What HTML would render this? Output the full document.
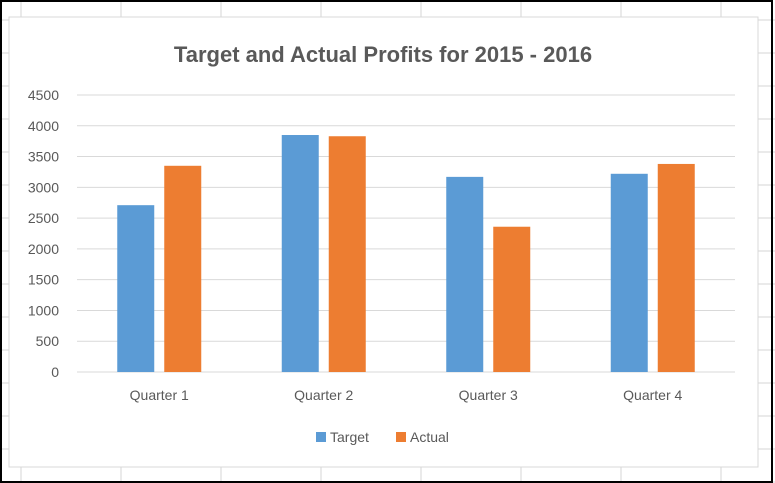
<!DOCTYPE html>
<html><head><meta charset="utf-8"><style>
body{margin:0;background:#fff;font-family:"Liberation Sans",sans-serif}
svg{display:block}
</style></head><body>
<svg width="775" height="483" xmlns="http://www.w3.org/2000/svg">
<g id="sheet"></g>
<rect x="9" y="17" width="749" height="450" fill="#fff" stroke="#d9d9d9"/>
<text x="383" y="62" text-anchor="middle" font-size="22" font-weight="bold" fill="#595959">Target and Actual Profits for 2015 - 2016</text>
<g id="grid"></g><g id="bars"></g><g id="labels"></g>
<g>
<rect x="316" y="432" width="10" height="10" fill="#5b9bd5"/>
<text x="330" y="442" font-size="14" fill="#595959">Target</text>
<rect x="396" y="432" width="10" height="10" fill="#ed7d31"/>
<text x="410" y="442" font-size="14" fill="#595959">Actual</text>
</g>
<rect x="1" y="1" width="771" height="481" fill="none" stroke="#000" stroke-width="2"/>
</svg>
<script>
const categories=["Quarter 1","Quarter 2","Quarter 3","Quarter 4"];
const target=[2710,3850,3170,3220];
const actual=[3350,3830,2360,3380];
const ticks=[0,500,1000,1500,2000,2500,3000,3500,4000,4500];
const NS="http://www.w3.org/2000/svg";
function mk(t,a,p){const e=document.createElementNS(NS,t);for(const k in a)e.setAttribute(k,a[k]);p.appendChild(e);return e;}
const sheet=document.getElementById('sheet');
for(let x=21;x<775;x+=100){const l=mk('line',{x1:x,y1:0,x2:x,y2:483,stroke:'#d4d4d4'},sheet);}
for(let y=20;y<483;y+=33){const l=mk('line',{x1:0,y1:y,x2:775,y2:y,stroke:'#d4d4d4'},sheet);}
const x0=77,x1=735,yBase=372,yTop=95,vmax=4500;
const ys=v=>yBase-(v/vmax)*(yBase-yTop);
const cw=(x1-x0)/categories.length;
const grid=document.getElementById('grid'),bars=document.getElementById('bars'),labels=document.getElementById('labels');
ticks.forEach(t=>{const y=ys(t);
const l=mk('line',{x1:x0,y1:y,x2:x1,y2:y,stroke:'#d9d9d9','stroke-width':1},grid);

const tx=mk('text',{x:59,y:y+5,'text-anchor':'end','font-size':14,fill:'#595959'},labels);tx.textContent=t;
});
categories.forEach((c,i)=>{const cx=x0+cw*(i+0.5);
const b1=mk('rect',{x:cx-42,y:ys(target[i]),width:37,height:yBase-ys(target[i]),fill:'#5b9bd5'},bars);

const b2=mk('rect',{x:cx+5,y:ys(actual[i]),width:37,height:yBase-ys(actual[i]),fill:'#ed7d31'},bars);

const t=mk('text',{x:cx,y:400,'text-anchor':'middle','font-size':14,fill:'#595959'},labels);t.textContent=c;
});
</script>
</body></html>
